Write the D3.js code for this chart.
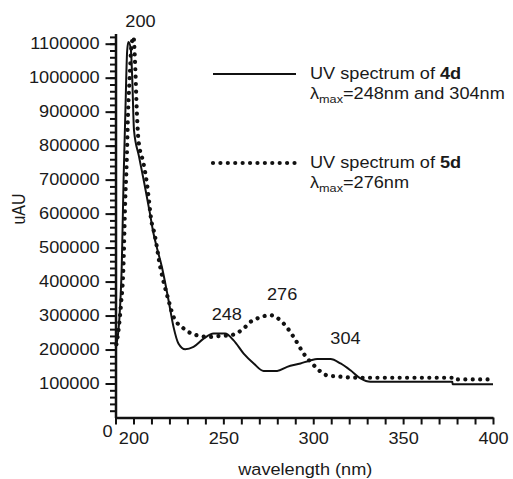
<!DOCTYPE html>
<html>
<head>
<meta charset="utf-8">
<script src="https://cdn.jsdelivr.net/npm/d3@7"></script>
<style>
  body { margin: 0; background: #fff; }
  svg { display: block; }
  text { font-family: "Liberation Sans", Arial, sans-serif; fill: #1a1a1a; }
  .axis path, .axis line { stroke: #111; }
</style>
</head>
<body>
<script>
//Spectrum of 4d (solid) - wavelength in nm, absorbance in uAU
var wave4d = [190.5, 192, 193.5, 194.5, 195.5, 196.5, 197.2, 198.5, 199.3, 200.3, 203, 206, 209, 211, 213.5, 215.8,
              219.5, 222.3, 225, 228.8, 233.4, 239, 244.6, 251, 255.7, 261.3, 266.9, 272.4, 279.9, 285.5, 292.9,
              298.4, 302.2, 309.6, 315.2, 320.7, 326.3, 331.8, 377.4, 377.5, 400];
var uau4d = [215000, 280000, 450000, 700000, 900000, 1080000, 1105000, 1085000, 1000000, 845000, 770000, 690000, 605000, 545000, 490000, 443000,
             345000, 266000, 218000, 201000, 208000, 232000, 247000, 247000, 227000, 188000, 159000, 137000, 137000, 149000, 159000,
             168000, 172000, 172000, 159000, 139000, 115000, 105000, 105000, 98000, 98000];

//Spectrum of 5d (dotted)
var wave5d = [190.5, 191.5, 193, 194.4, 195.4, 196.2, 197, 197.8, 198.8, 200, 200.9, 201.9, 202.8, 205.6, 207.5, 210.2,
              211.5, 214.9, 219.5, 222.3, 227.9, 235.3, 242.7, 248, 253.9, 261.3, 265, 269.6, 276.2, 283.6, 289.1,
              294.7, 300.3, 307.7, 315.2, 324.5, 377, 377.5, 400];
var uau5d = [215000, 250000, 330000, 443000, 639000, 747000, 900000, 992000, 1090000, 1120000, 1041000, 895000, 815000, 747000, 688000, 571000,
             545000, 443000, 345000, 296000, 262000, 242000, 237000, 240000, 242000, 262000, 281000, 293000, 301000, 276000, 237000,
             188000, 154000, 124000, 120000, 117000, 117000, 112000, 112000];

//Peak labels
var peakNames = ["200", "248", "276", "304"];
var peakWave = [200, 248, 276, 304];
var peakUau = [1120000, 247000, 301000, 172000];

//Axis ticks
var xMajor = [200, 250, 300, 350, 400];
var yMajor = [100000, 200000, 300000, 400000, 500000, 600000, 700000, 800000, 900000, 1000000, 1100000];

var width = 513, height = 479;
var sx = 1.1; //text in the picture is a little wide

var x = d3.scaleLinear().domain([190, 400]).range([115.5, 493]);
var y = d3.scaleLinear().domain([0, 1130000]).range([417.5, 33.5]);

var svg = d3.select("body").append("svg")
    .attr("width", width)
    .attr("height", height);

//Text helper: stretched horizontally a bit like the original
function label(tx, ty, str, size, anchor) {
    return svg.append("text")
        .attr("transform", "translate(" + tx + "," + ty + ") scale(" + sx + ",1)")
        .attr("text-anchor", anchor || "start")
        .style("font-size", size + "px")
        .text(str);
}

//Minor y ticks every 20000
var yMinor = d3.axisLeft(y)
    .tickValues(d3.range(20000, 1130000, 20000))
    .tickSize(5.5)
    .tickSizeOuter(0)
    .tickFormat("");
svg.append("g")
    .attr("class", "axis")
    .attr("transform", "translate(" + x(190) + ",0)")
    .call(yMinor)
    .call(function (g) { g.selectAll("line").attr("stroke-width", 2); g.select("path").attr("stroke-width", 2.5); });

//Major y ticks
var yAxis = d3.axisLeft(y)
    .tickValues(yMajor)
    .tickSize(10)
    .tickPadding(4.5)
    .tickSizeOuter(0)
    .tickFormat(d3.format("d"));
svg.append("g")
    .attr("class", "axis")
    .attr("transform", "translate(" + x(190) + ",0)")
    .call(yAxis)
    .call(function (g) {
        g.select("path").remove();
        g.selectAll("line").attr("stroke-width", 2);
        g.selectAll("text")
            .attr("transform", "scale(" + sx + ",1)")
            .style("font-size", "16.5px")
            .attr("font-family", null);
    });

//X axis, ticks every 10 nm
var xAxis = d3.axisBottom(x)
    .tickValues(d3.range(190, 401, 10))
    .tickSize(7)
    .tickPadding(8)
    .tickSizeOuter(0)
    .tickFormat(function (d) { return xMajor.indexOf(d) >= 0 ? d : ""; });
svg.append("g")
    .attr("class", "axis")
    .attr("transform", "translate(0," + y(0) + ")")
    .call(xAxis)
    .call(function (g) {
        g.select("path").attr("stroke-width", 2.5);
        g.selectAll("line").attr("stroke-width", 2);
        g.selectAll("text")
            .attr("transform", "scale(" + sx + ",1)")
            .style("font-size", "16.5px")
            .attr("font-family", null);
    });

//Origin label
label(x(190) - 8, y(0) + 19.5, "0", 16.5, "middle");

//Axis titles
label((x(190) + x(400)) / 2 + 1, 475, "wavelength (nm)", 16.5, "middle");
svg.append("text")
    .attr("transform", "translate(25," + 209 + ") rotate(-90) scale(1,1.1)")
    .attr("text-anchor", "middle")
    .style("font-size", "16px")
    .text("uAU");

//Spectra
var line = d3.line()
    .curve(d3.curveMonotoneX)
    .x(function (d) { return x(d[0]); })
    .y(function (d) { return y(d[1]); });

var data4d = d3.zip(wave4d, uau4d);
var data5d = d3.zip(wave5d, uau5d);

svg.append("path")
    .datum(data4d)
    .attr("d", line)
    .attr("fill", "none")
    .attr("stroke", "#111")
    .attr("stroke-width", 2);

svg.append("path")
    .datum(data5d)
    .attr("d", line)
    .attr("fill", "none")
    .attr("stroke", "#111")
    .attr("stroke-width", 4.2)
    .attr("stroke-linecap", "round")
    .attr("stroke-dasharray", "0.01 7.4");

//Peak labels
var peakDx = [7, 7, 12, 25],
    peakDy = [-10, -13.5, -15, -15];
peakNames.forEach(function (name, i) {
    label(x(peakWave[i]) + peakDx[i], y(peakUau[i]) + peakDy[i], name, 16.5, "middle");
});

//Legend
function legendEntry(ly, dotted, compound, lmax) {
    var seg = svg.append("line")
        .attr("x1", 213).attr("x2", 296)
        .attr("y1", ly).attr("y2", ly)
        .attr("stroke", "#111");
    if (dotted) {
        seg.attr("stroke-width", 4.2)
            .attr("stroke-linecap", "round")
            .attr("stroke-dasharray", "0.01 7.4");
    } else {
        seg.attr("stroke-width", 2);
    }
    var t1 = label(310, ly + 5, "UV spectrum of ", 16.5);
    t1.append("tspan").style("font-weight", "bold").text(compound);

    var t2 = label(310, ly + 25, "λ", 16.5);
    t2.append("tspan").attr("dy", 4).style("font-size", "11.5px").text("max");
    t2.append("tspan").attr("dy", -4).text("=" + lmax);
}
legendEntry(74, false, "4d", "248nm and 304nm");
legendEntry(163, true, "5d", "276nm");
</script>
</body>
</html>
